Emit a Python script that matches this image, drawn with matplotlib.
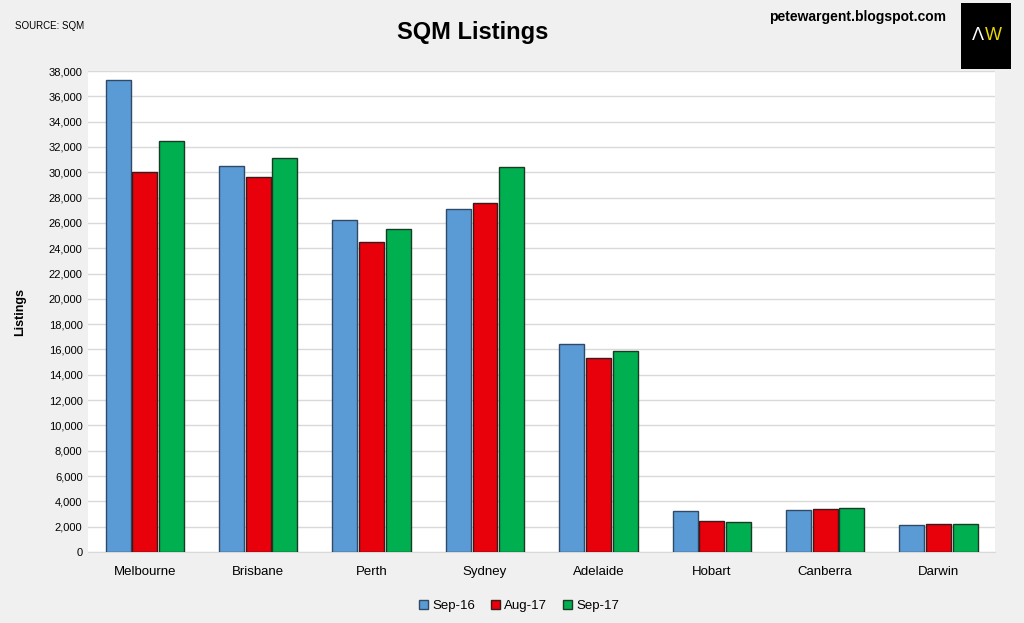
import matplotlib.pyplot as plt
import numpy as np
from matplotlib.patches import Rectangle

cities = ['Melbourne', 'Brisbane', 'Perth', 'Sydney', 'Adelaide', 'Hobart', 'Canberra', 'Darwin']
sep16 = [37300, 30500, 26200, 27100, 16400, 3200, 3300, 2150]
aug17 = [30000, 29600, 24500, 27600, 15300, 2450, 3400, 2200]
sep17 = [32500, 31100, 25500, 30400, 15900, 2400, 3500, 2200]
series_names = ['Sep-16', 'Aug-17', 'Sep-17']
colors = ['#5b9bd5', '#e8000b', '#00b050']
edges = ['#2e4a66', '#3a1a1a', '#1a3a26']

plt.rcParams['font.family'] = ['Liberation Sans', 'DejaVu Sans']

fig = plt.figure(figsize=(10.24, 6.23), dpi=100, facecolor='#f0f0f0')
ax = fig.add_axes([0.086, 0.114, 0.886, 0.772])
ax.set_facecolor('white')

x = np.arange(len(cities))
w = 0.22
for i, (vals, name) in enumerate(zip([sep16, aug17, sep17], series_names)):
    ax.bar(x + (i - 1) * (w + 0.015), vals, w, color=colors[i], edgecolor=edges[i],
           linewidth=1.0, label=name, zorder=3)

ax.set_xlim(-0.5, len(cities) - 0.5)
ax.set_ylim(0, 38000)
ax.set_yticks(np.arange(0, 38001, 2000))
ax.set_yticklabels([f'{v:,}' for v in range(0, 38001, 2000)], fontsize=8)
ax.set_xticks(x)
ax.set_xticklabels(cities, fontsize=9.5)
ax.tick_params(axis='y', length=0, pad=4)
ax.tick_params(axis='x', length=0, pad=10)
ax.grid(axis='y', color='#d9d9d9', linewidth=1, zorder=0)
for s in ['top', 'right', 'left']:
    ax.spines[s].set_visible(False)
ax.spines['bottom'].set_color('#d9d9d9')

ax.set_ylabel('Listings', fontsize=9, fontweight='bold', labelpad=16)

fig.text(0.462, 0.948, 'SQM Listings', fontsize=17, fontweight='bold', ha='center', va='center')
fig.text(0.015, 0.958, 'SOURCE: SQM', fontsize=7, ha='left', va='center')
fig.text(0.924, 0.972, 'petewargent.blogspot.com', fontsize=10, fontweight='bold', ha='right', va='center')

# logo
fig.patches.append(Rectangle((0.938, 0.89), 0.049, 0.105, transform=fig.transFigure,
                             facecolor='black', edgecolor='none'))
fig.text(0.955, 0.943, 'Λ', color='white', fontsize=13, ha='center', va='center')
fig.text(0.970, 0.943, 'W', color='#e8d800', fontsize=13, ha='center', va='center')

ax.legend(loc='upper center', bbox_to_anchor=(0.475, -0.075), ncol=3, frameon=False,
          fontsize=9.5, handlelength=0.7, handleheight=0.7, handletextpad=0.3, columnspacing=1.2)

fig.savefig('out.png', dpi=100, facecolor=fig.get_facecolor())
